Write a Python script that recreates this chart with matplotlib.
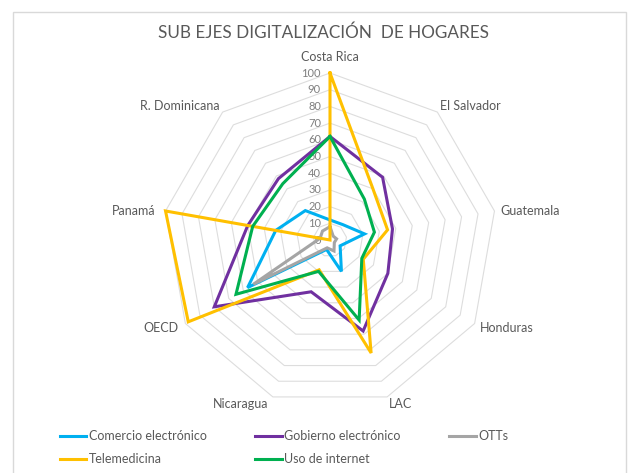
import numpy as np
import matplotlib.pyplot as plt
from matplotlib.patches import Rectangle

plt.rcParams['font.family'] = ['Lato', 'DejaVu Sans']

# datos (escala 0-100)
categories = ['Costa Rica', 'El Salvador', 'Guatemala', 'Honduras', 'LAC',
              'Nicaragua', 'OECD', 'Panamá', 'R. Dominicana']
comercio = [12, 12, 21, 7, 20, 6, 57, 33, 23]
gobierno = [62, 49, 38, 40, 58, 33, 80, 50, 48]
otts = [8, 3, 4, 3, 7, 5, 53, 6, 7]
telemedicina = [100, 40, 35, 23, 72, 19, 98, 100, 0]
internet = [62, 32, 27, 22, 51, 20, 65, 47, 44]

series = [
    ('Comercio electrónico', comercio, '#00B0F0'),
    ('Gobierno electrónico', gobierno, '#7030A0'),
    ('OTTs', otts, '#A5A5A5'),
    ('Telemedicina', telemedicina, '#FFC000'),
    ('Uso de internet', internet, '#00B050'),
]

W, H = 634, 473
cx, cy, rad = 330, 240, 167

fig = plt.figure(figsize=(W / 100, H / 100), dpi=100)
fig.patch.set_facecolor('white')
fig.patches.append(Rectangle((13 / W, -0.05), 613 / W, 1 - 12 / H + 0.05,
                             transform=fig.transFigure, fill=False,
                             edgecolor='#D9D9D9', lw=1))

ax = fig.add_axes([(cx - rad) / W, (H - cy - rad) / H, 2 * rad / W, 2 * rad / H],
                  projection='polar')
ax.set_theta_offset(np.pi / 2)
ax.set_theta_direction(-1)
ax.set_ylim(0, 100)
ax.grid(False)
ax.spines['polar'].set_visible(False)
ax.set_xticks([])
ax.set_yticks([])
ax.patch.set_alpha(0)

n = len(categories)
theta = np.arange(n) * 2 * np.pi / n
closed = np.append(theta, theta[0])

# rejilla poligonal
for r in range(10, 101, 10):
    ax.plot(closed, [r] * (n + 1), color='#DDDDDD', lw=0.8, zorder=1, clip_on=False)

for r in range(0, 101, 10):
    ax.annotate(str(r), xy=(0, r), xytext=(-9, 0), textcoords='offset pixels',
                ha='right', va='center', fontsize=8, color='#7F7F7F')

handles = {}
for name, vals, col in series:
    ln, = ax.plot(closed, vals + vals[:1], color=col, lw=2.2, zorder=3,
                  clip_on=False, solid_joinstyle='miter', label=name)
    handles[name] = ln

# etiquetas de categorias
label_pos = [
    ((0, 16), 'center'), ((3, 6), 'left'), ((6, 0), 'left'), ((5, -4), 'left'),
    ((2, -7), 'left'), ((-5, -7), 'right'), ((-7, -4), 'right'),
    ((-10, 0), 'right'), ((-3, 6), 'right'),
]
for t, cat, (off, ha) in zip(theta, categories, label_pos):
    ax.annotate(cat, xy=(t, 100), xytext=off, textcoords='offset pixels',
                ha=ha, va='center', fontsize=9, color='#595959')

fig.text(323 / W, 1 - 33 / H, 'SUB EJES DIGITALIZACIÓN  DE HOGARES',
         ha='center', va='center', fontsize=12.3, color='#595959')

order = ['Comercio electrónico', 'Telemedicina', 'Gobierno electrónico',
         'Uso de internet', 'OTTs']
leg = fig.legend([handles[k] for k in order], order, loc='upper left',
                 bbox_to_anchor=(60 / W, 1 - 430 / H), ncol=3, frameon=False,
                 fontsize=9, handlelength=2.1, handletextpad=0.2,
                 columnspacing=3.9, labelspacing=0.9, borderpad=0,
                 borderaxespad=0)
for txt in leg.get_texts():
    txt.set_color('#595959')

fig.savefig('out.png', dpi=100)
